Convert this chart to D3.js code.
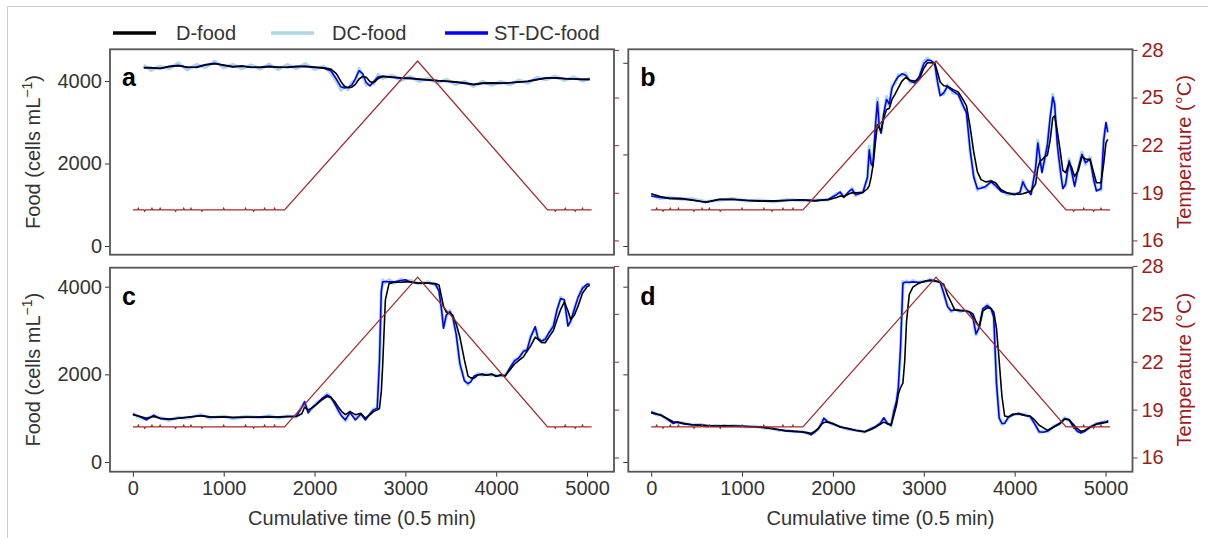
<!DOCTYPE html>
<html><head><meta charset="utf-8">
<script src="https://cdn.jsdelivr.net/npm/d3@7"></script>
<style>body{margin:0;background:#fff;} text{font-family:"Liberation Sans",Arial,Helvetica,sans-serif;}</style>
</head><body><svg id="chart" width="1208" height="538"></svg>
<script>
// ---------------- data ----------------
const seriesNames = ["D-food", "DC-food", "ST-DC-food"];
const panelLetters = ["a", "b", "c", "d"];
const xTicks = [0, 1000, 2000, 3000, 4000, 5000];
const foodTicks = [0, 2000, 4000];
const tempTicks = [16, 19, 22, 25, 28];

// Temperature (shared by all panels)
const tempTime = [0,52,60,68,122,130,138,202,210,218,292,300,308,462,470,478,552,560,568,632,640,648,752,760,768,992,1000,1008,1232,1240,1248,1322,1330,1338,1442,1450,1458,1552,1560,1568,1670,3135,4565,4642,4650,4658,4752,4760,4768,4862,4870,4878,4942,4950,4958,5050];
const tempVal  = [17.92, 17.92,18.02,17.92, 17.92,17.84,17.92, 17.92,18.02,17.92, 17.92,18.02,17.92, 17.92,17.84,17.92, 17.92,18.02,17.92, 17.92,18.02,17.92, 17.92,17.84,17.92, 17.92,18.02,17.92, 17.92,18.02,17.92, 17.92,17.84,17.92, 17.92,18.02,17.92, 17.92,18.02,17.92, 17.92, 27.3, 17.92, 17.92,17.84,17.92, 17.92,18.02,17.92, 17.92,17.84,17.92, 17.92,18.02,17.92, 17.92];

// Panel a
const tA = [120,200,300,400,500,600,700,800,900,1000,1100,1200,1300,1400,1500,1600,1700,1800,1900,2000,2100,2180,2240,2290,2330,2370,2410,2450,2490,2530,2570,2610,2650,2700,2750,2850,2950,3050,3150,3250,3350,3450,3550,3650,3750,3850,3950,4050,4150,4250,4350,4450,4550,4650,4750,4850,4950,5030];
const dA  = [4330,4320,4310,4350,4370,4340,4330,4390,4420,4390,4350,4360,4340,4330,4350,4340,4330,4350,4360,4340,4320,4290,4180,3990,3870,3840,3850,3920,4050,4110,4090,3990,3960,4060,4110,4100,4080,4070,4050,4030,4010,4000,3980,3960,3920,3950,3960,3950,3960,3980,3990,4030,4070,4080,4060,4050,4040,4040];
const dcA = [4380,4260,4360,4300,4440,4270,4400,4330,4480,4320,4400,4300,4390,4290,4410,4280,4400,4300,4420,4280,4360,4200,4000,3780,3880,3790,3960,4010,4300,4120,3900,3940,3930,4160,4060,4140,4010,4110,3990,4070,3950,4040,3920,3990,3870,3990,3900,3990,3910,4020,3950,4090,4030,4120,4010,4100,4000,4060];
const stA = [4320,4330,4300,4360,4380,4330,4340,4400,4430,4380,4340,4370,4330,4340,4360,4330,4340,4360,4350,4330,4310,4250,4050,3860,3830,3850,3900,4060,4250,4180,3960,3880,3990,4100,4120,4090,4070,4060,4040,4020,4010,3990,3970,3940,3910,3940,3950,3940,3960,3970,4000,4040,4080,4070,4060,4050,4040,4040];

// Panel b
const tB = [0,100,200,330,450,600,750,900,1050,1200,1350,1500,1650,1800,1950,2040,2080,2120,2180,2210,2250,2330,2380,2400,2420,2440,2470,2490,2510,2530,2560,2590,2620,2650,2680,2720,2760,2800,2850,2900,2950,3000,3040,3080,3120,3150,3180,3220,3260,3320,3380,3430,3470,3510,3550,3590,3630,3680,3740,3790,3850,3920,4000,4060,4090,4120,4180,4230,4255,4280,4300,4330,4360,4390,4420,4440,4470,4500,4530,4560,4600,4630,4660,4700,4740,4780,4830,4870,4900,4950,4980,5005,5025];
const dB  = [1140,1080,1040,1030,1000,960,1015,1020,995,980,985,995,1010,990,1010,1060,1090,1080,1140,1165,1160,1170,1250,1320,1500,1750,2300,2650,2580,2520,2800,2980,3000,3200,3300,3450,3600,3680,3620,3600,3640,3880,4000,4000,3990,3800,3580,3500,3490,3420,3360,3200,3060,2600,2050,1620,1450,1400,1420,1380,1230,1160,1130,1130,1140,1160,1200,1350,1700,1860,1880,1950,1980,2300,2800,2840,2500,2100,1650,1600,1820,1700,1520,1650,1950,1900,1890,1600,1380,1380,1800,2250,2330];
const dcB = [1110,1040,1060,1020,1030,970,1000,1035,985,1000,965,1015,990,1000,1005,1140,1160,1080,1180,1260,1100,1190,1480,2180,1760,1780,2650,3220,2560,2500,2860,3260,3060,3500,3540,3740,3720,3780,3560,3600,3660,4020,4100,4010,4010,3560,3320,3310,3520,3340,3340,3040,2940,2060,1540,1220,1290,1270,1430,1290,1220,1120,1150,1150,1430,1250,1150,1670,2300,1860,1640,1870,2240,2760,3310,3060,2250,1660,1290,1320,1900,1570,1340,1660,2050,1780,1940,1420,1240,1220,2350,2660,2520];
const stB = [1090,1060,1040,1040,1010,950,1020,1015,1000,985,980,1000,1005,985,1020,1120,1180,1060,1200,1240,1120,1170,1500,2100,1800,1740,2700,3150,2600,2460,2900,3200,3100,3450,3580,3700,3760,3730,3600,3560,3700,3980,4060,4050,3980,3600,3280,3350,3480,3380,3300,3080,2900,2100,1500,1250,1260,1300,1400,1320,1190,1150,1120,1180,1400,1280,1120,1700,2250,1900,1600,1900,2200,2800,3250,3100,2200,1700,1250,1350,1860,1600,1300,1700,2000,1820,1900,1450,1200,1250,2300,2700,2480];

// Panel c
const tC = [0,80,150,230,300,400,500,600,750,850,1000,1100,1250,1400,1500,1600,1700,1800,1860,1890,1930,1970,2020,2080,2140,2180,2220,2270,2300,2340,2390,2450,2510,2560,2610,2650,2690,2715,2735,2750,2780,2820,2880,2950,3000,3060,3150,3250,3330,3370,3400,3420,3450,3490,3520,3560,3600,3650,3690,3720,3760,3800,3850,3890,3950,4000,4050,4100,4150,4200,4250,4300,4340,4380,4430,4460,4500,4540,4580,4630,4670,4710,4750,4790,4820,4860,4900,4950,5000,5030];
const dC  = [1080,1040,1000,1040,1000,980,1000,1020,1055,1030,1025,1020,1025,1020,1025,1030,1040,1040,1100,1250,1190,1230,1310,1420,1495,1470,1380,1230,1150,1080,1150,1080,1110,1000,1080,1150,1190,1220,1600,2200,3700,4070,4100,4100,4110,4110,4080,4080,4070,4040,3750,3550,3420,3390,3350,3150,2850,2330,1960,1920,1920,1990,1990,1980,2000,1960,1980,1970,2100,2230,2320,2400,2530,2650,2850,2800,2730,2720,2850,3000,3250,3480,3650,3450,3250,3350,3550,3850,4000,4030];
const dcC = [1110,1010,990,1050,1010,950,1020,1000,1080,1000,1050,990,1040,1010,1060,1000,1050,1030,1270,1350,1150,1210,1350,1420,1560,1450,1360,1120,1070,940,1150,990,1080,980,1080,1210,1200,2350,3850,4150,4090,4160,4080,4170,4130,4140,4060,4110,4040,3930,3420,3090,3320,3460,3300,2940,2200,1880,1760,1860,1940,2020,1980,2010,1980,1980,1960,1990,2120,2330,2350,2550,2530,2880,3060,2850,2730,2830,2920,3130,3450,3760,3670,3130,3190,3510,3720,3990,4030,4080];
const stC = [1095,1030,960,1070,990,970,1000,1020,1060,1020,1030,1010,1020,1030,1040,1020,1035,1045,1250,1380,1120,1240,1320,1450,1530,1480,1330,1150,1040,960,1130,960,1100,960,1100,1190,1230,2300,3900,4110,4120,4110,4110,4140,4160,4100,4080,4080,4060,3900,3450,3050,3350,3430,3330,2900,2250,1850,1790,1830,1970,1990,2010,1980,2010,1950,1990,1960,2150,2300,2380,2520,2560,2850,3090,2820,2760,2800,2950,3100,3480,3730,3700,3100,3220,3480,3750,3960,4060,4050];

// Panel d
const tD = [0,60,110,170,240,290,360,450,540,620,710,800,920,1030,1140,1230,1310,1400,1480,1560,1650,1720,1760,1800,1840,1880,1900,1950,2000,2080,2160,2250,2350,2420,2470,2520,2560,2600,2640,2670,2700,2720,2745,2770,2790,2810,2840,2880,2930,2990,3020,3070,3120,3180,3220,3260,3300,3340,3400,3450,3500,3540,3575,3610,3650,3700,3740,3770,3800,3830,3860,3890,3930,3980,4040,4110,4170,4220,4270,4310,4360,4430,4500,4550,4600,4640,4690,4730,4770,4830,4900,4950,5000,5030];
const dD  = [1120,1090,1070,1000,920,900,880,850,840,830,820,825,820,810,805,790,765,740,715,700,690,670,650,700,765,870,900,915,880,800,770,725,690,740,800,860,910,870,850,1060,1300,1550,1700,1800,2300,3200,3820,3990,4060,4110,4130,4140,4130,4100,4050,3820,3650,3470,3460,3450,3430,3380,3200,3080,3450,3520,3500,3420,3050,2300,1500,1050,1030,1090,1100,1060,1050,960,840,790,720,800,880,980,960,870,760,700,720,790,860,880,900,910];
const dcD = [1160,1080,1070,980,900,900,890,840,860,810,830,815,830,800,815,780,780,725,720,695,700,650,640,690,750,920,980,920,860,810,750,730,680,770,800,890,990,890,820,1170,1380,1720,2600,4120,4080,4130,4080,4140,4090,4130,4110,4170,4120,4120,3830,3580,3430,3490,3430,3470,3410,3320,2900,3090,3480,3590,3480,3320,1780,1020,860,900,1000,1090,1090,1090,1020,890,670,700,690,820,870,1010,950,840,690,680,710,790,880,890,930,920];
const stD = [1140,1100,1060,990,880,920,870,850,845,825,815,830,815,815,800,795,770,735,710,705,685,660,620,680,760,900,1000,900,870,800,760,720,690,760,810,880,1010,880,830,1150,1400,1700,2650,4080,4100,4100,4100,4110,4100,4100,4130,4150,4140,4100,3850,3550,3450,3470,3450,3450,3430,3300,2920,3070,3500,3570,3500,3300,1800,1000,880,880,1020,1070,1110,1070,1040,870,690,680,700,800,890,990,970,820,700,660,700,800,870,900,910,940];

// ---------------- layout / style ----------------
const W = 1208, H = 538;
const FONT = 20;
const TEMP_COLOR = "#a52a2a";
const TEMP_TEXT = "#9e1b1b";
const seriesColors = {"D-food": "#000000", "DC-food": "#add8e6", "ST-DC-food": "#0000ff"};
const xDomain = [-252, 5297];

const panels = [
  {letter: "a", t: tA, d: dA, dc: dcA, st: stA, box: [110, 49.3, 614, 254.7], food: [-211, 4770], temp: [15.10, 28.04], leftLabels: true,  rightLabels: false, bottom: false},
  {letter: "b", t: tB, d: dB, dc: dcB, st: stB, box: [628.3, 49.3, 1132.5, 254.7], food: [-190, 4295], temp: [15.10, 28.04], leftLabels: false, rightLabels: true,  bottom: false},
  {letter: "c", t: tC, d: dC, dc: dcC, st: stC, box: [110, 267.7, 614, 471.7], food: [-221, 4433], temp: [15.11, 27.89], leftLabels: true,  rightLabels: false, bottom: true},
  {letter: "d", t: tD, d: dD, dc: dcD, st: stD, box: [628.3, 267.7, 1132.5, 471.7], food: [-221, 4433], temp: [15.11, 27.89], leftLabels: false, rightLabels: true,  bottom: true}
];

const svg = d3.select("#chart");
svg.append("rect").attr("width", W).attr("height", H).attr("fill", "#fff");
svg.append("path").attr("d", "M7.5,538V6.5H1208").attr("fill", "none").attr("stroke", "#cccccc").attr("stroke-width", 1);

const defs = svg.append("defs");

panels.forEach((p, i) => {
  const [x0, y0, x1, y1] = p.box;
  const x = d3.scaleLinear().domain(xDomain).range([x0, x1]);
  const y = d3.scaleLinear().domain(p.food).range([y1, y0]);
  const yT = d3.scaleLinear().domain(p.temp).range([y1, y0]);
  const g = svg.append("g");

  defs.append("clipPath").attr("id", "clip" + i)
    .append("rect").attr("x", x0).attr("y", y0).attr("width", x1 - x0).attr("height", y1 - y0);
  const plot = g.append("g").attr("clip-path", `url(#clip${i})`);

  const line = vals => d3.line().x((d, k) => x(p.t[k])).y(d => y(d))(vals);
  plot.append("path").attr("d", line(p.dc)).attr("fill", "none")
    .attr("stroke", seriesColors["DC-food"]).attr("stroke-width", 3.2).attr("stroke-linejoin", "round");
  plot.append("path").attr("d", line(p.st)).attr("fill", "none")
    .attr("stroke", seriesColors["ST-DC-food"]).attr("stroke-width", 1.6).attr("stroke-linejoin", "round");
  plot.append("path").attr("d", line(p.d)).attr("fill", "none")
    .attr("stroke", seriesColors["D-food"]).attr("stroke-width", 1.6).attr("stroke-linejoin", "round");

  const tline = d3.line().x((d, k) => x(tempTime[k])).y(d => yT(d));
  plot.append("path").attr("d", tline(tempVal)).attr("fill", "none")
    .attr("stroke", TEMP_COLOR).attr("stroke-width", 1.3);

  // left axis
  const la = g.append("g").attr("transform", `translate(${x0},0)`)
    .call(d3.axisLeft(y).tickValues(foodTicks).tickSize(5).tickPadding(3)
      .tickFormat(p.leftLabels ? d3.format("d") : () => ""));
  la.select(".domain").remove();
  la.selectAll("line").attr("stroke", "#333");
  la.selectAll("text").attr("fill", "#333").attr("font-size", FONT).attr("font-family", "Liberation Sans, Arial, sans-serif");

  // right axis (temperature)
  const ra = g.append("g").attr("transform", `translate(${x1},0)`)
    .call(d3.axisRight(yT).tickValues(tempTicks).tickSize(5).tickPadding(4)
      .tickFormat(p.rightLabels ? d3.format("d") : () => ""));
  ra.select(".domain").remove();
  ra.selectAll("line").attr("stroke", TEMP_COLOR);
  ra.selectAll("text").attr("fill", TEMP_TEXT).attr("font-size", FONT).attr("font-family", "Liberation Sans, Arial, sans-serif");

  if (p.bottom) {
    const ba = g.append("g").attr("transform", `translate(0,${y1})`)
      .call(d3.axisBottom(x).tickValues(xTicks).tickSize(5).tickPadding(4).tickFormat(d3.format("d")));
    ba.select(".domain").remove();
    ba.selectAll("line").attr("stroke", "#333");
    ba.selectAll("text").attr("fill", "#333").attr("font-size", FONT).attr("font-family", "Liberation Sans, Arial, sans-serif");
    g.append("text").attr("x", (x0 + x1) / 2).attr("y", 525).attr("text-anchor", "middle")
      .attr("font-size", FONT).attr("fill", "#333").text("Cumulative time (0.5 min)");
  }

  // frame
  g.append("rect").attr("x", x0).attr("y", y0).attr("width", x1 - x0).attr("height", y1 - y0)
    .attr("fill", "none").attr("stroke", "#555").attr("stroke-width", 1.8);

  // panel letter
  g.append("text").attr("x", x0 + 12).attr("y", y0 + 37).attr("font-size", 25).attr("font-weight", "bold")
    .attr("fill", "#000").text(p.letter);

  const ym = (y0 + y1) / 2;
  if (p.leftLabels) {
    const t = g.append("text").attr("transform", `translate(40,${ym}) rotate(-90)`)
      .attr("text-anchor", "middle").attr("font-size", FONT).attr("fill", "#333");
    t.append("tspan").text("Food (cells mL");
    t.append("tspan").attr("dy", -8).attr("font-size", 14).text("\u22121");
    t.append("tspan").attr("dy", 8).text(")");
  }
  if (p.rightLabels) {
    g.append("text").attr("transform", `translate(1191,${ym}) rotate(-90)`)
      .attr("text-anchor", "middle").attr("font-size", FONT).attr("fill", TEMP_TEXT).text("Temperature (\u00B0C)");
  }
});

// legend
const legendX = [113, 271, 445];
const legendTextX = [176, 332, 494];
seriesNames.forEach((n, i) => {
  svg.append("line").attr("x1", legendX[i]).attr("x2", legendX[i] + 43).attr("y1", 33).attr("y2", 33)
    .attr("stroke", seriesColors[n]).attr("stroke-width", 3.5);
  svg.append("text").attr("x", legendTextX[i]).attr("y", 40).attr("font-size", FONT).attr("fill", "#333").text(n);
});
</script></body></html>
